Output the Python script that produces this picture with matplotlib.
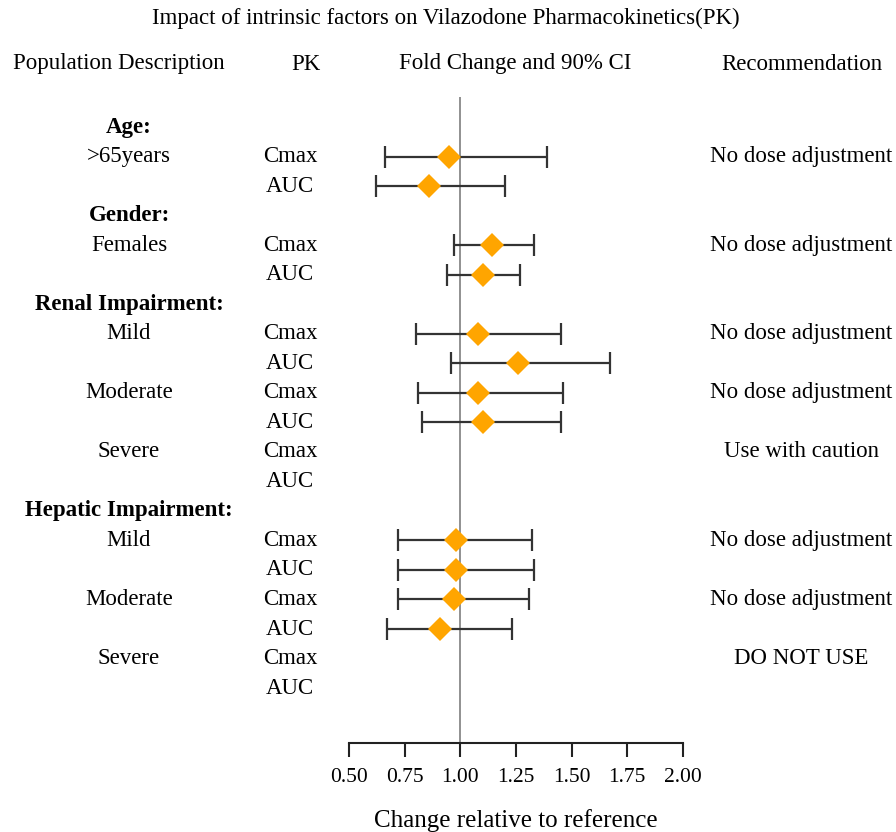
import numpy as np
import matplotlib
matplotlib.use("Agg")
import matplotlib.pyplot as plt
import matplotlib.transforms as mtransforms

plt.rcParams['font.family'] = ['Liberation Serif', 'DejaVu Serif']

# Rows from top to bottom
pop_labels = ['Age:', '>65years', '', 'Gender:', 'Females', '',
              'Renal Impairment:', 'Mild', '', 'Moderate', '', 'Severe', '',
              'Hepatic Impairment:', 'Mild', '', 'Moderate', '', 'Severe', '']
group_rows = [0, 3, 6, 13]
pk_labels = ['', 'Cmax', 'AUC', '', 'Cmax', 'AUC', '', 'Cmax', 'AUC', 'Cmax',
             'AUC', 'Cmax', 'AUC', '', 'Cmax', 'AUC', 'Cmax', 'AUC', 'Cmax', 'AUC']
recommendations = ['', 'No dose adjustment', '', '', 'No dose adjustment', '',
                   '', 'No dose adjustment', '', 'No dose adjustment', '',
                   'Use with caution', '', '', 'No dose adjustment', '',
                   'No dose adjustment', '', 'DO NOT USE', '']

nan = np.nan
fold = [nan, 0.95, 0.86, nan, 1.14, 1.10, nan, 1.08, 1.26, 1.08, 1.10, nan, nan,
        nan, 0.98, 0.98, 0.97, 0.91, nan, nan]
ci_low = [nan, 0.66, 0.62, nan, 0.97, 0.94, nan, 0.80, 0.96, 0.81, 0.83, nan, nan,
          nan, 0.72, 0.72, 0.72, 0.67, nan, nan]
ci_high = [nan, 1.39, 1.20, nan, 1.33, 1.27, nan, 1.45, 1.67, 1.46, 1.45, nan, nan,
           nan, 1.32, 1.33, 1.31, 1.23, nan, nan]

x_ticks = [0.50, 0.75, 1.00, 1.25, 1.50, 1.75, 2.00]

fig = plt.figure(figsize=(8.96, 8.32), dpi=100)
ax = fig.add_axes([349 / 896, 89 / 832, 334 / 896, 646 / 832])

rows = np.arange(len(pop_labels))
fold = np.array(fold)
ci_low = np.array(ci_low)
ci_high = np.array(ci_high)
ok = ~np.isnan(fold)

ax.axvline(1.0, color='#909090', lw=1.4, zorder=1)
ax.errorbar(fold[ok], rows[ok],
            xerr=[fold[ok] - ci_low[ok], ci_high[ok] - fold[ok]],
            fmt='none', ecolor='#333333', elinewidth=1.6, capsize=8, capthick=1.6,
            zorder=2)
ax.plot(fold[ok], rows[ok], 'D', color='#FFA500', markersize=12,
        markeredgewidth=0, zorder=3)

ax.set_xlim(0.5, 2.0)
ax.set_ylim(20.86, -1.016)
ax.set_xticks(x_ticks)
ax.set_xticklabels(['%.2f' % t for t in x_ticks], fontsize=15.5)
ax.set_yticks([])
for side in ['top', 'right', 'left']:
    ax.spines[side].set_visible(False)
ax.spines['bottom'].set_linewidth(1.5)
ax.spines['bottom'].set_color('#222222')
ax.tick_params(axis='x', direction='out', length=10, width=1.5, color='#222222', pad=8)
ax.set_xlabel('Change relative to reference', fontsize=18, labelpad=16)

trans = mtransforms.blended_transform_factory(fig.transFigure, ax.transData)
for i in rows:
    if pop_labels[i]:
        ax.text(129 / 896, i, pop_labels[i], transform=trans, ha='center', va='center',
                fontsize=16.5, fontweight='bold' if i in group_rows else 'normal')
    if pk_labels[i]:
        ax.text(290 / 896, i, pk_labels[i], transform=trans, ha='center', va='center',
                fontsize=16.5)
    if recommendations[i]:
        ax.text(801 / 896, i, recommendations[i], transform=trans, ha='center',
                va='center', fontsize=16.5)

fig.text(446 / 896, 1 - 18 / 832, 'Impact of intrinsic factors on Vilazodone Pharmacokinetics(PK)',
         ha='center', va='center', fontsize=16.5)
hy = 1 - 64 / 832
fig.text(119 / 896, hy, 'Population Description', ha='center', va='center', fontsize=16.5)
fig.text(306 / 896, hy, 'PK', ha='center', va='center', fontsize=16.5)
fig.text(515 / 896, hy, 'Fold Change and 90% CI', ha='center', va='center', fontsize=16.5)
fig.text(802 / 896, hy, 'Recommendation', ha='center', va='center', fontsize=16.5)

fig.savefig('out.png', dpi=100)
